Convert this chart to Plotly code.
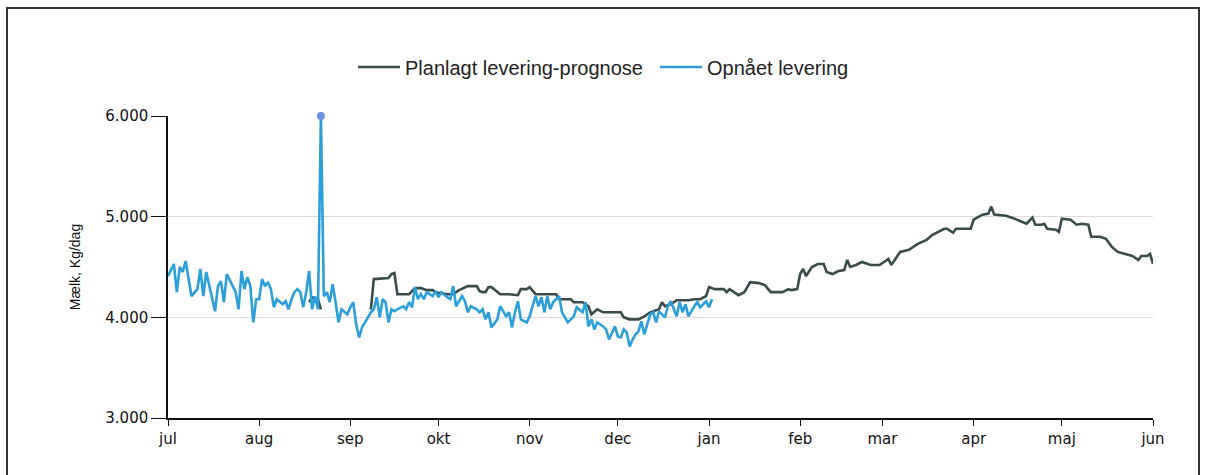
import pandas as pd
import plotly.graph_objects as go

# ---- data ----
season_start = "2021-07-01"
season_end = "2022-06-01"
month_labels = ["jul", "aug", "sep", "okt", "nov", "dec", "jan", "feb", "mar", "apr", "maj", "jun"]
y_ticks = [3000, 4000, 5000, 6000]

series_names = ["Planlagt levering-prognose", "Opnået levering"]

# days since season start, and kg/day
actual_day = [0, 2, 3, 4, 5, 6, 8, 10, 11, 12, 13, 14, 16, 17, 18, 19, 20, 22, 23, 24,
              25, 26, 27, 28, 29, 30, 31, 32, 33, 34, 35, 36, 37, 39, 40, 41, 42, 43, 44, 45,
              46, 47, 48, 49, 50, 51, 52, 53, 54, 55, 56, 57, 58, 59, 61, 62, 63, 64, 65, 66,
              68, 69, 70, 71, 72, 73, 74, 75, 76, 77, 78, 80, 81, 82, 83, 84, 85, 86, 87, 88,
              90, 91, 92, 93, 95, 96, 97, 98, 100, 101, 102, 103, 105, 106, 107, 108, 109, 110, 112, 113,
              115, 116, 117, 118, 119, 120, 122, 123, 125, 126, 127, 128, 129, 130, 131, 133, 134, 136, 138, 139,
              141, 142, 143, 144, 145, 146, 148, 149, 150, 151, 152, 153, 154, 155, 156, 157, 158, 159, 160, 161,
              162, 164, 165, 166, 167, 169, 170, 171, 173, 174, 175, 176, 177, 179, 180, 181, 183, 184, 185]
actual_kg = [4410, 4530, 4250, 4500, 4450, 4560, 4210, 4280, 4480, 4210, 4450, 4310, 4060, 4310, 4360, 4150, 4430, 4310, 4250, 4080,
             4460, 4280, 4400, 4310, 3950, 4180, 4180, 4380, 4310, 4350, 4280, 4100, 4180, 4130, 4160, 4080, 4180, 4250, 4280, 4250,
             4100, 4250, 4460, 4080, 4210, 4080, 6000, 4210, 4250, 4150, 4330, 4150, 3950, 4080, 4030, 4100, 4150, 3930, 3800, 3900,
             4010, 4050, 4080, 4200, 4000, 4180, 4150, 3950, 4080, 4060, 4080, 4110, 4080, 4150, 4100, 4300, 4180, 4230, 4180, 4250,
             4210, 4260, 4200, 4250, 4200, 4180, 4310, 4110, 4210, 4160, 4050, 4110, 4080, 4050, 4080, 3980, 4050, 3900, 3980, 4110,
             4010, 4050, 3900, 4050, 4160, 3980, 3950, 4010, 4210, 4110, 4200, 4050, 4210, 4080, 4150, 4210, 4050, 3950, 4010, 4100,
             4050, 4150, 3910, 3980, 3880, 3950, 3910, 3880, 3780, 3850, 3910, 3810, 3800, 3880, 3850, 3710, 3780, 3830, 3860, 3960,
             3830, 4030, 4050, 3950, 4060, 4000, 4110, 4160, 4010, 4150, 4050, 4130, 4010, 4110, 4150, 4100, 4160, 4100, 4180]

plan_day = [48, 49, 51, 52, 53, 69, 70, 75, 76, 77, 78, 82, 83, 84, 86, 88, 90, 91, 95, 97,
            99, 102, 104, 105, 106, 107, 108, 109, 110, 113, 116, 119, 120, 122, 123, 125, 129, 132, 133, 137,
            138, 141, 143, 144, 146, 148, 154, 155, 157, 160, 162, 164, 167, 168, 169, 171, 173, 177, 179, 181,
            183, 184, 186, 189, 190, 191, 194, 196, 198, 201, 203, 205, 209, 211, 212, 214, 215, 216, 217, 219,
            221, 223, 224, 226, 228, 230, 231, 232, 234, 236, 239, 242, 245, 246, 249, 252, 255, 258, 260, 262,
            264, 265, 267, 268, 273, 274, 277, 279, 280, 281, 285, 287, 290, 292, 294, 295, 297, 298, 299, 302,
            303, 304, 307, 309, 311, 313, 314, 317, 319, 321, 323, 326, 328, 330, 331, 333, 334, 335]
plan_kg = [4150, 4200, 4180, 4080, None, 4080, 4380, 4390, 4430, 4440, 4230, 4230, 4260, 4290, 4290, 4270, 4270, 4250, 4230, 4230,
           4270, 4310, 4310, 4310, 4260, 4250, 4250, 4300, 4300, 4230, 4230, 4220, 4280, 4280, 4300, 4230, 4230, 4230, 4180, 4180,
           4150, 4150, 4110, 4030, 4080, 4050, 4050, 4000, 3980, 3980, 4010, 4050, 4080, 4150, 4110, 4130, 4170, 4170, 4180, 4180,
           4210, 4300, 4280, 4280, 4250, 4280, 4220, 4250, 4350, 4340, 4320, 4250, 4250, 4280, 4270, 4280, 4430, 4480, 4410, 4500,
           4530, 4530, 4450, 4430, 4460, 4470, 4570, 4500, 4520, 4550, 4520, 4520, 4580, 4520, 4650, 4670, 4730, 4770, 4820, 4850,
           4880, 4880, 4840, 4880, 4880, 4970, 5020, 5030, 5100, 5020, 5010, 4990, 4950, 4930, 4990, 4920, 4920, 4930, 4880, 4870,
           4850, 4980, 4970, 4920, 4930, 4920, 4800, 4800, 4780, 4700, 4650, 4630, 4610, 4570, 4610, 4610, 4630, 4530]

# ---- build ----
start = pd.Timestamp(season_start)
actual_dates = [start + pd.Timedelta(days=d) for d in actual_day]
plan_dates = [start + pd.Timedelta(days=d) for d in plan_day]
month_ticks = list(pd.date_range(season_start, season_end, freq="MS"))

peak_i = max(range(len(actual_kg)), key=lambda i: actual_kg[i])

PLAN_COLOR = "#3a4b4b"
ACT_COLOR = "#2a9fd9"
FONT = "Liberation Sans, Arial, sans-serif"
TICK_FONT = "DejaVu Sans, Verdana, sans-serif"

fig = go.Figure()
fig.add_trace(go.Scatter(x=plan_dates, y=plan_kg, mode="lines", name=series_names[0],
                         line=dict(color=PLAN_COLOR, width=2.6), connectgaps=False))
fig.add_trace(go.Scatter(x=actual_dates, y=actual_kg, mode="lines", name=series_names[1],
                         line=dict(color=ACT_COLOR, width=2.6)))
fig.add_trace(go.Scatter(x=[actual_dates[peak_i]], y=[actual_kg[peak_i]], mode="markers",
                         marker=dict(color="#6f8fe6", size=8), showlegend=False, hoverinfo="skip",
                         cliponaxis=False))

fig.update_layout(
    width=1208, height=475,
    margin=dict(l=168, r=55, t=116, b=57),
    paper_bgcolor="white", plot_bgcolor="white",
    separators=",.",
    font=dict(family=FONT, size=13, color="#222"),
    legend=dict(orientation="h", xref="container", yref="container", x=353 / 1208, xanchor="left",
                y=1 - 67 / 475, yanchor="middle", font=dict(family=FONT, size=20, color="#222"),
                itemwidth=42, tracegroupgap=0, entrywidth=245, entrywidthmode="pixels"),
    showlegend=True,
    shapes=[dict(type="rect", xref="paper", yref="paper",
                 x0=(7 - 168) / 985, x1=(1199 - 168) / 985,
                 y0=(418 - 490) / 302, y1=(418 - 8) / 302,
                 line=dict(color="#333", width=2), fillcolor="rgba(0,0,0,0)", layer="below")],
)
fig.update_xaxes(
    type="date", range=[season_start, season_end],
    tickvals=month_ticks, ticktext=month_labels,
    showgrid=False, showline=True, linecolor="#111", linewidth=1.5,
    ticks="outside", ticklen=6, tickcolor="#111", tickwidth=1,
    tickfont=dict(family=TICK_FONT, size=15, color="#111"), zeroline=False,
)
fig.update_yaxes(
    range=[3000, 6000], tickvals=y_ticks, tickformat=",d",
    showgrid=True, gridcolor="#dcdcdc", gridwidth=1,
    showline=True, linecolor="#111", linewidth=1.5,
    ticks="outside", ticklen=15, tickcolor="#111", tickwidth=1,
    tickfont=dict(family=TICK_FONT, size=15, color="#111"), zeroline=False,
    title=dict(text="Mælk, Kg/dag", font=dict(family=FONT, size=14, color="#111"), standoff=21),
)

fig.write_html("out.html", config={"displayModeBar": False},
               post_script="document.body.style.margin='0px';document.body.style.overflow='hidden';")
